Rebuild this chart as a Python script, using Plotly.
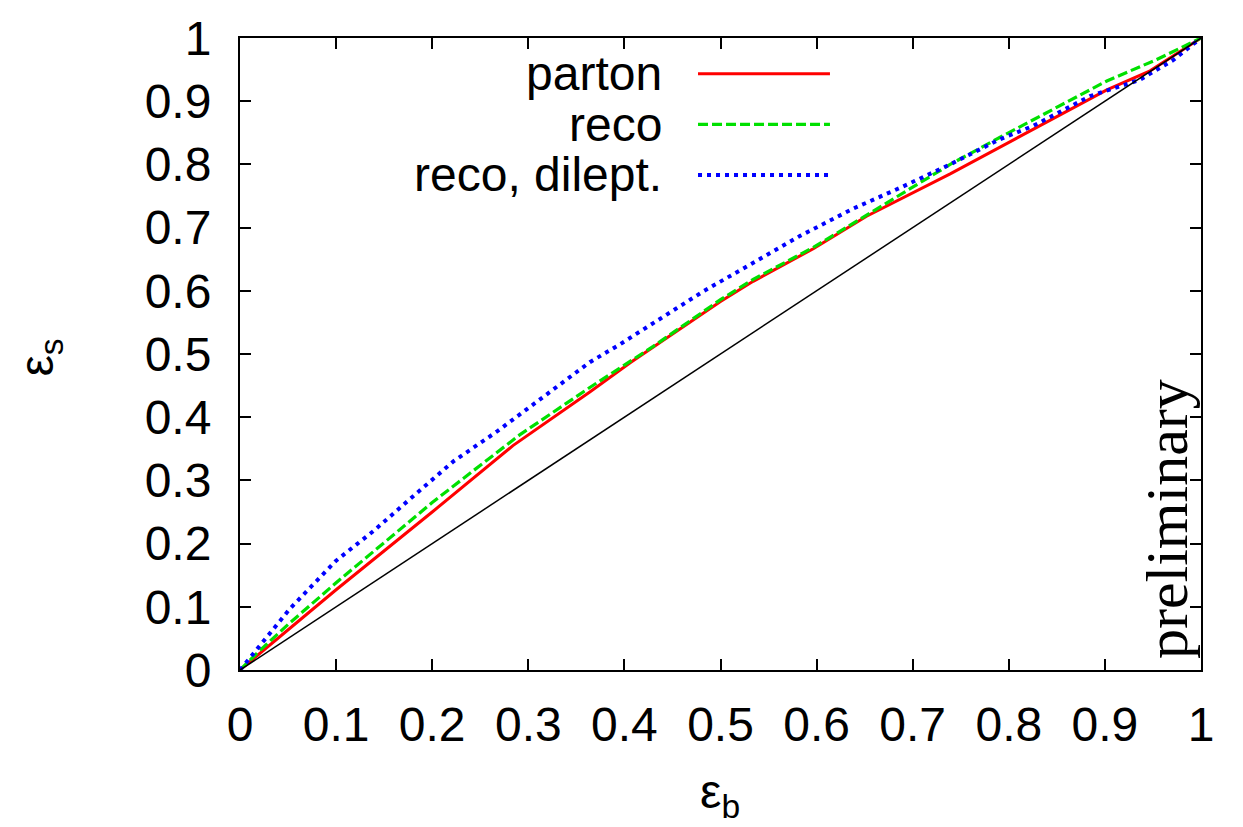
import plotly.graph_objects as go

# Signal efficiency vs. background efficiency
parton_x = [0, 0.05, 0.1, 0.2, 0.284, 0.364, 0.406, 0.5, 0.534, 0.597, 0.652, 0.739, 0.8325, 0.902, 0.947, 1.0]
parton_y = [0, 0.064, 0.127, 0.25, 0.355, 0.44, 0.486, 0.583, 0.615, 0.667, 0.718, 0.785, 0.861, 0.918, 0.948, 1.0]

reco_x = [0, 0.02, 0.05, 0.1, 0.2, 0.291, 0.364, 0.43, 0.5, 0.534, 0.597, 0.652, 0.739, 0.791, 0.8325, 0.902, 0.954, 1.0]
reco_y = [0, 0.03, 0.072, 0.138, 0.265, 0.372, 0.447, 0.512, 0.586, 0.618, 0.669, 0.72, 0.80, 0.843, 0.876, 0.932, 0.966, 1.0]

dilept_x = [0, 0.0226, 0.052, 0.1, 0.139, 0.184, 0.222, 0.267, 0.309, 0.364, 0.395, 0.482, 0.583,
            0.638, 0.687, 0.739, 0.791, 0.8255, 0.8845, 0.9365, 0.971, 1.0]
dilept_y = [0, 0.043, 0.097, 0.173, 0.22, 0.28, 0.33, 0.377, 0.424, 0.487, 0.515, 0.599, 0.687,
            0.73, 0.763, 0.80, 0.840, 0.861, 0.908, 0.934, 0.965, 1.0]

diag_x = [0, 1]
diag_y = [0, 1]

tick_vals = [0, 0.1, 0.2, 0.3, 0.4, 0.5, 0.6, 0.7, 0.8, 0.9, 1]
tick_text = ["0", "0.1", "0.2", "0.3", "0.4", "0.5", "0.6", "0.7", "0.8", "0.9", "1"]

series_names = ["parton", "reco", "reco, dilept."]
series_colors = ["#ff0000", "#00e000", "#0000ff"]
series_dash = ["solid", "10px,4px", "4px,5px"]
series_width = [3, 3.2, 4]

FONT = "Liberation Sans, Arial, sans-serif"

fig = go.Figure()
for xs, ys, name, col, dash, w in zip(
    [parton_x, reco_x, dilept_x], [parton_y, reco_y, dilept_y],
    series_names, series_colors, series_dash, series_width,
):
    fig.add_trace(go.Scatter(x=xs, y=ys, mode="lines", name=name,
                             line=dict(color=col, dash=dash, width=w),
                             showlegend=False))

fig.add_trace(go.Scatter(x=diag_x, y=diag_y, mode="lines", showlegend=False,
                         line=dict(color="black", width=1.5)))

# key: label right-aligned, sample to its right
key_rows = [0.9435, 0.8634, 0.7834]
for name, col, dash, w, yy in zip(series_names, series_colors, series_dash, series_width, key_rows):
    fig.add_annotation(x=0.4412, y=yy, xref="paper", yref="paper", text=name,
                       showarrow=False, xanchor="right", yanchor="middle",
                       font=dict(family=FONT, size=48, color="black"))
    fig.add_shape(type="line", xref="paper", yref="paper",
                  x0=0.4766, x1=0.6139, y0=yy, y1=yy,
                  line=dict(color=col, dash=dash, width=w))

# axis titles
fig.add_annotation(x=0.4995, y=-0.197, xref="paper", yref="paper",
                   xanchor="center", yanchor="middle",
                   text="ε<sub>b</sub>", showarrow=False,
                   font=dict(family=FONT, size=48, color="black"))
fig.add_annotation(x=-0.208, y=0.4945, xref="paper", yref="paper",
                   xanchor="center", yanchor="middle",
                   text="ε<sub>s</sub>", showarrow=False, textangle=-90,
                   font=dict(family=FONT, size=48, color="black"))

fig.add_annotation(x=0.9645, y=0.2386, xref="paper", yref="paper",
                   xanchor="center", yanchor="middle",
                   text="preliminary", showarrow=False, textangle=-90,
                   font=dict(family="Liberation Serif, Times New Roman, serif", size=60, color="black"))

axis_common = dict(range=[0, 1], tickvals=tick_vals, ticktext=tick_text,
                   ticks="inside", ticklen=11, tickwidth=1.5, tickcolor="black",
                   showline=True, linecolor="black", linewidth=2, mirror="ticks",
                   showgrid=False, zeroline=False,
                   tickfont=dict(family=FONT, size=48, color="black"))

fig.update_layout(
    width=1243, height=827,
    margin=dict(l=240, r=42, t=33, b=157),
    paper_bgcolor="white", plot_bgcolor="white",
    xaxis=dict(**axis_common, ticklabelstandoff=11),
    yaxis=dict(**axis_common, ticklabelstandoff=17),
)

fig.write_html("out.html")
